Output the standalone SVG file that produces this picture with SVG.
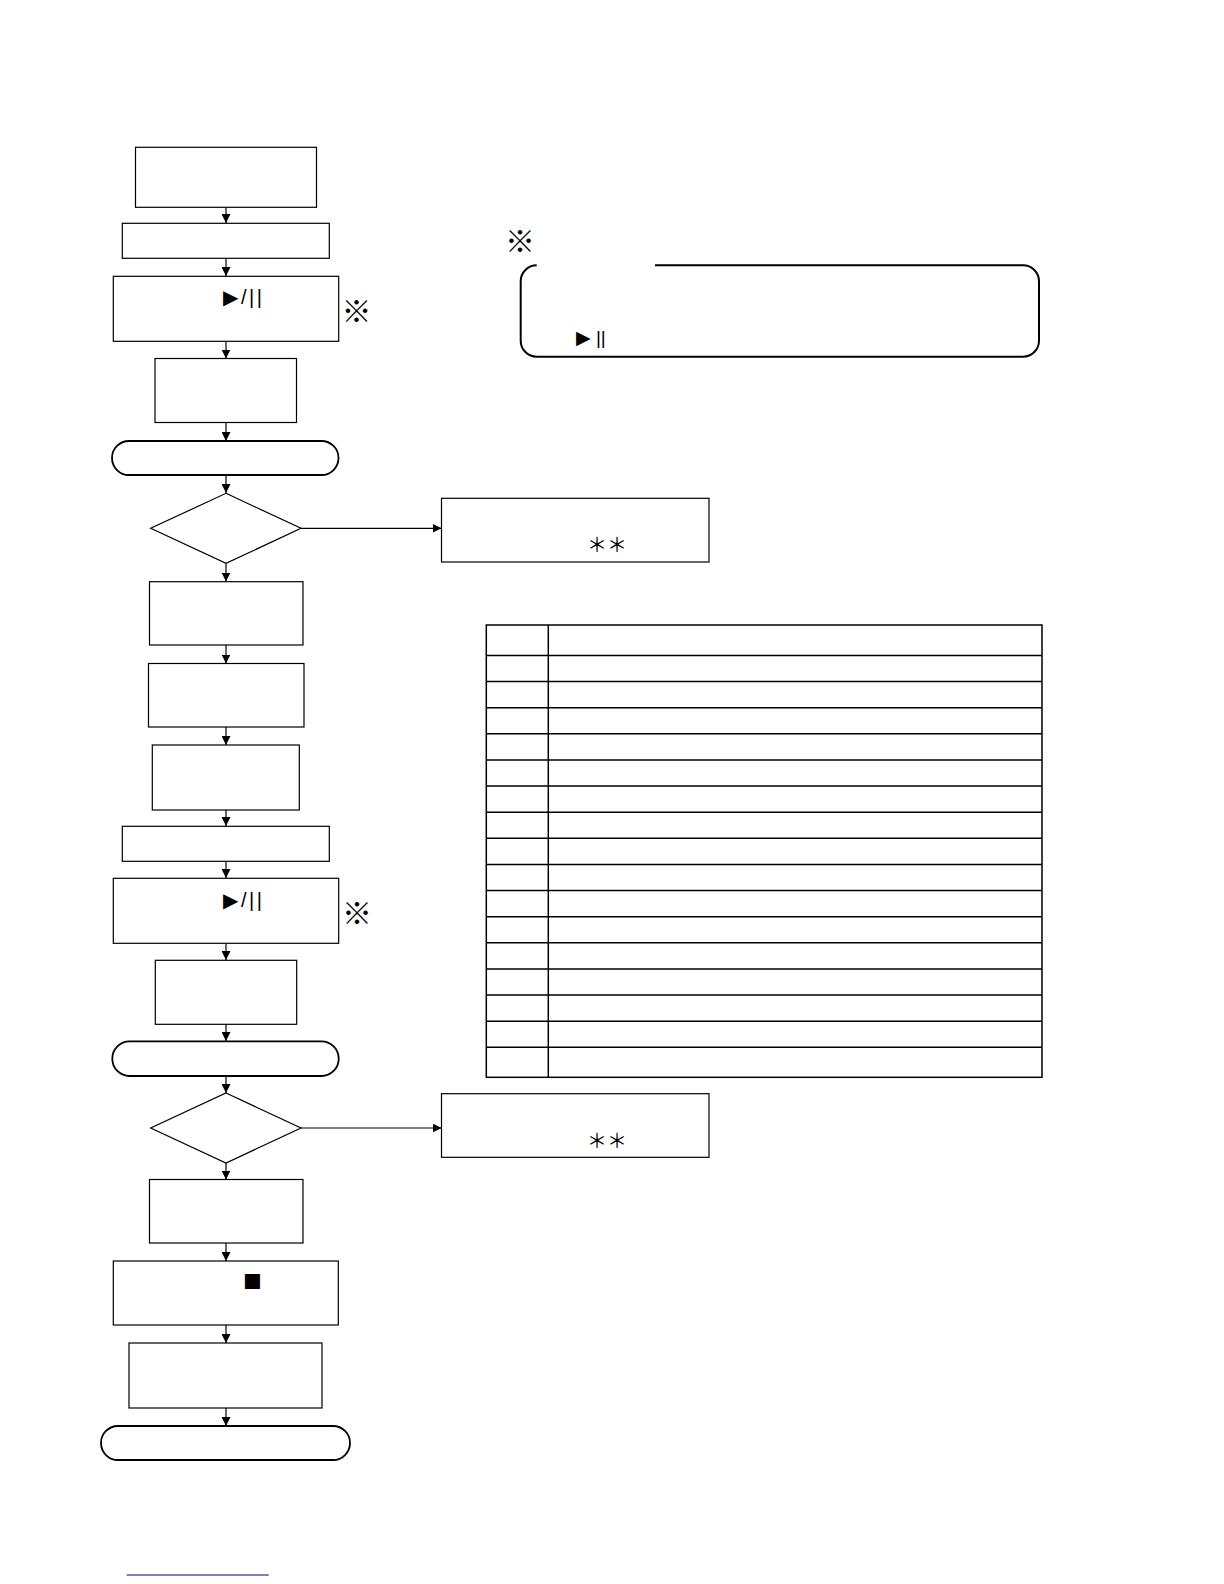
<svg xmlns="http://www.w3.org/2000/svg" width="1224" height="1584" viewBox="0 0 1224 1584">
<style>
.box{fill:#fff;stroke:#000;stroke-width:1.2}
.term{fill:#fff;stroke:#000;stroke-width:1.8}
.dia{fill:#fff;stroke:#000;stroke-width:1.2}
.conn{stroke:#000;stroke-width:1.2;fill:none;marker-end:url(#ah)}
.grid{stroke:#000;stroke-width:1.5;fill:none}
.sym{font-family:"Liberation Sans","DejaVu Sans",sans-serif;fill:#000}
.cjk{font-family:"Noto Sans CJK JP","DejaVu Sans",sans-serif;fill:#000}
.ref{font-family:"Noto Sans CJK JP","DejaVu Sans",sans-serif;fill:#000;font-size:30px;font-weight:bold}
.pp{font-family:"Liberation Sans","DejaVu Sans",sans-serif;fill:#000;font-size:20px;letter-spacing:2.5px}
</style>
<defs>
<marker id="ah" markerUnits="userSpaceOnUse" markerWidth="9" markerHeight="9" refX="9" refY="4.5" orient="auto">
<path d="M0,0 L9,4.5 L0,9 z" fill="#000"/>
</marker>
</defs>
<rect width="1224" height="1584" fill="#fff"/>

<g id="connectors">
<line class="conn" x1="226" y1="207" x2="226" y2="223"/>
<line class="conn" x1="226" y1="258" x2="226" y2="276"/>
<line class="conn" x1="226" y1="341" x2="226" y2="358.5"/>
<line class="conn" x1="226" y1="422.5" x2="226" y2="441"/>
<line class="conn" x1="226" y1="475" x2="226" y2="493"/>
<line class="conn" x1="226" y1="563.5" x2="226" y2="581.5"/>
<line class="conn" x1="301" y1="528.3" x2="441.5" y2="528.3"/>
<line class="conn" x1="226" y1="645" x2="226" y2="663.5"/>
<line class="conn" x1="226" y1="727" x2="226" y2="745"/>
<line class="conn" x1="226" y1="810" x2="226" y2="826"/>
<line class="conn" x1="226" y1="861" x2="226" y2="878"/>
<line class="conn" x1="226" y1="943" x2="226" y2="960"/>
<line class="conn" x1="226" y1="1024" x2="226" y2="1041"/>
<line class="conn" x1="226" y1="1076" x2="226" y2="1093"/>
<line class="conn" x1="226" y1="1163" x2="226" y2="1179.5"/>
<line class="conn" x1="301" y1="1128" x2="441.5" y2="1128"/>
<line class="conn" x1="226" y1="1243" x2="226" y2="1261"/>
<line class="conn" x1="226" y1="1325" x2="226" y2="1343"/>
<line class="conn" x1="226" y1="1408" x2="226" y2="1426"/>
</g>

<g id="n1"><rect class="box" x="135.5" y="147.3" width="181" height="60"/></g>
<g id="n2"><rect class="box" x="122.3" y="223.3" width="207" height="35"/></g>
<g id="n3"><rect class="box" x="113.3" y="276.3" width="225.4" height="65"/>
<text class="pp" x="223" y="304">▶/||</text></g>
<text class="ref" x="341.5" y="321.5">※</text>
<g id="n4"><rect class="box" x="155" y="358.5" width="141.5" height="64"/></g>
<g id="t1"><rect class="term" x="112" y="441" width="226.5" height="34" rx="17" ry="17"/></g>
<g id="d1"><polygon class="dia" points="226,493.3 301,528.3 226,563.3 150.7,528.3"/></g>
<g id="s1"><rect class="box" x="441.5" y="498.3" width="267.5" height="63.7"/>
<text class="cjk" x="587" y="552" font-size="20">＊＊</text></g>
<g id="n5"><rect class="box" x="149.5" y="581.7" width="153.5" height="63.3"/></g>
<g id="n6"><rect class="box" x="148.5" y="663.5" width="155.5" height="63.5"/></g>
<g id="n7"><rect class="box" x="152.3" y="745" width="147" height="65"/></g>
<g id="n8"><rect class="box" x="122.3" y="826.3" width="207" height="35"/></g>
<g id="n9"><rect class="box" x="113.3" y="878.3" width="225.4" height="65"/>
<text class="pp" x="223" y="907">▶/||</text></g>
<text class="ref" x="342" y="923.5">※</text>
<g id="n10"><rect class="box" x="155.3" y="960.3" width="141.4" height="64"/></g>
<g id="t2"><rect class="term" x="112.3" y="1041.3" width="226.4" height="34.7" rx="17.3" ry="17.3"/></g>
<g id="d2"><polygon class="dia" points="226,1093 301,1128 226,1163 150.7,1128"/></g>
<g id="s2"><rect class="box" x="441.5" y="1093.7" width="267.5" height="63.6"/>
<text class="cjk" x="587" y="1148" font-size="20">＊＊</text></g>
<g id="n11"><rect class="box" x="149.5" y="1179.5" width="153.5" height="63.5"/></g>
<g id="n12"><rect class="box" x="113.3" y="1261" width="225" height="64"/>
<text class="sym" x="243" y="1291" font-size="31">■</text></g>
<g id="n13"><rect class="box" x="129" y="1343" width="193" height="65"/></g>
<g id="t3"><rect class="term" x="101" y="1426" width="249" height="34" rx="17" ry="17"/></g>

<g id="note">
<text class="ref" x="505" y="251.5">※</text>
<path d="M655,265.3 H1023 A16,16 0 0 1 1039,281.3 V340.7 A16,16 0 0 1 1023,356.7 H536.7 A16,16 0 0 1 520.7,340.7 V281.3 A16,16 0 0 1 536.7,265.3" fill="none" stroke="#000" stroke-width="2"/>
<text class="sym" x="576" y="344" font-size="19">▶ ||</text>
</g>

<g id="table" class="grid">
<rect x="486.3" y="625" width="555.7" height="452.3"/>
<line x1="548.3" y1="625" x2="548.3" y2="1077.3"/>
<path d="M486.3,655.4H1042 M486.3,681.5H1042 M486.3,707.7H1042 M486.3,733.8H1042 M486.3,759.9H1042 M486.3,786.1H1042 M486.3,812.2H1042 M486.3,838.3H1042 M486.3,864.4H1042 M486.3,890.6H1042 M486.3,916.7H1042 M486.3,942.8H1042 M486.3,969H1042 M486.3,995.1H1042 M486.3,1021.2H1042 M486.3,1047.3H1042"/>
</g>

<line x1="126.7" y1="1575" x2="268.7" y2="1575" stroke="#000080" stroke-width="1.2"/>
</svg>
